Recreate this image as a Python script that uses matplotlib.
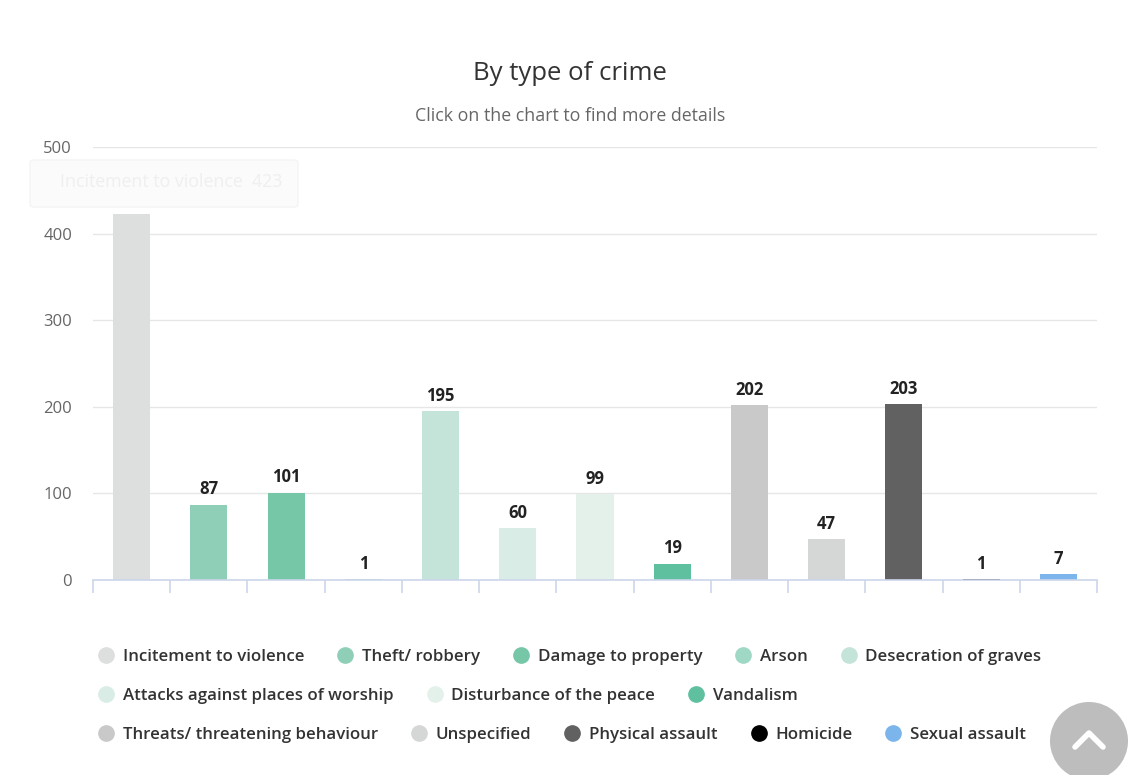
import matplotlib
matplotlib.use("Agg")
import matplotlib.pyplot as plt
from matplotlib.lines import Line2D
from matplotlib.patches import Ellipse, FancyBboxPatch

plt.rcParams["font.family"] = ["Open Sans", "DejaVu Sans"]

categories = [
    "Incitement to violence", "Theft/ robbery", "Damage to property", "Arson",
    "Desecration of graves", "Attacks against places of worship",
    "Disturbance of the peace", "Vandalism", "Threats/ threatening behaviour",
    "Unspecified", "Physical assault", "Homicide", "Sexual assault",
]
values = [423, 87, 101, 1, 195, 60, 99, 19, 202, 47, 203, 1, 7]
colors = [
    "#dcdfde", "#8fcfb8", "#76c6a8", "#9fd8c5", "#c4e3d9", "#d9ece6",
    "#e4f1eb", "#5fc0a0", "#c9c9c9", "#d5d7d7", "#616161", "#000000", "#7cb5ec",
]
legend_rows = [[0, 1, 2, 3, 4], [5, 6, 7], [8, 9, 10, 11, 12]]
y_ticks = [0, 100, 200, 300, 400, 500]

W, H = 1132, 775
fig = plt.figure(figsize=(W / 100, H / 100), dpi=100)
fig.patch.set_facecolor("white")

ax = fig.add_axes([93 / W, 1 - 580 / H, (1097 - 93) / W, (580 - 147) / H])
x = list(range(len(categories)))
ax.bar(x, values, width=0.48, color=colors, zorder=2)

for xi, v in zip(x, values):
    ax.annotate(str(v), (xi, v), xytext=(0, 4.5), textcoords="offset points",
                ha="center", va="bottom", fontsize=12, fontweight="bold",
                color="#222222", zorder=4)

ax.set_xlim(-0.5, len(categories) - 0.5)
ax.set_ylim(0, 500)
ax.set_yticks(y_ticks)
ax.set_yticklabels([str(t) for t in y_ticks])
ax.yaxis.grid(True, color="#e6e6e6", linewidth=1)
ax.set_axisbelow(True)
for s in ["top", "right", "left"]:
    ax.spines[s].set_visible(False)
ax.spines["bottom"].set_color("#ccd6eb")
ax.spines["bottom"].set_linewidth(1.2)
ax.spines["bottom"].set_zorder(3)
ax.tick_params(axis="y", length=0, labelsize=12, labelcolor="#666666", pad=15)
ax.set_xticks([i - 0.5 for i in range(len(categories) + 1)])
ax.set_xticklabels([])
ax.tick_params(axis="x", length=9.5, color="#ccd6eb", width=1.2)

fig.text(570 / W, 1 - 74 / H, "By type of crime", ha="center", va="center",
         fontsize=18.5, color="#333333")
fig.text(570 / W, 1 - 116 / H, "Click on the chart to find more details",
         ha="center", va="center", fontsize=12.8, color="#666666")

# faded tooltip
tip = FancyBboxPatch((30 / W, 1 - 207 / H), 268 / W, 47 / H,
                     boxstyle="round,pad=0,rounding_size=0.004",
                     transform=fig.transFigure, facecolor="#fbfbfb",
                     edgecolor="#f4f4f4", linewidth=1, zorder=5)
fig.patches.append(tip)
fig.text(60 / W, 1 - 182 / H, "Incitement to violence  423", ha="left",
         va="center", fontsize=12.8, color="#efefef", zorder=6)

# legend, one row at a time
row_y = [657, 696, 735]
for row, yy in zip(legend_rows, row_y):
    handles = [Line2D([], [], marker="o", linestyle="none", markersize=11,
                      markerfacecolor=colors[i], markeredgecolor=colors[i])
               for i in row]
    labels = [categories[i] for i in row]
    leg = fig.legend(handles, labels, loc="center left",
                     bbox_to_anchor=(100 / W, 1 - yy / H), ncol=len(row),
                     frameon=False, fontsize=12.2, handlelength=0.75,
                     handletextpad=0.6, columnspacing=2.05, borderaxespad=0,
                     borderpad=0)
    for t in leg.get_texts():
        t.set_color("#333333")
        t.set_fontweight("semibold")

# scroll-to-top button
btn = Ellipse((1089 / W, 1 - 741 / H), 78 / W, 78 / H,
              transform=fig.transFigure, facecolor="#bdbdbd",
              edgecolor="none", zorder=5)
fig.patches.append(btn)
fig.add_artist(Line2D([1075 / W, 1089 / W, 1103 / W],
                      [1 - 747 / H, 1 - 733 / H, 1 - 747 / H],
                      color="white", linewidth=4, solid_capstyle="round",
                      solid_joinstyle="round", zorder=6))

fig.savefig("out.png", dpi=100, facecolor="white")
